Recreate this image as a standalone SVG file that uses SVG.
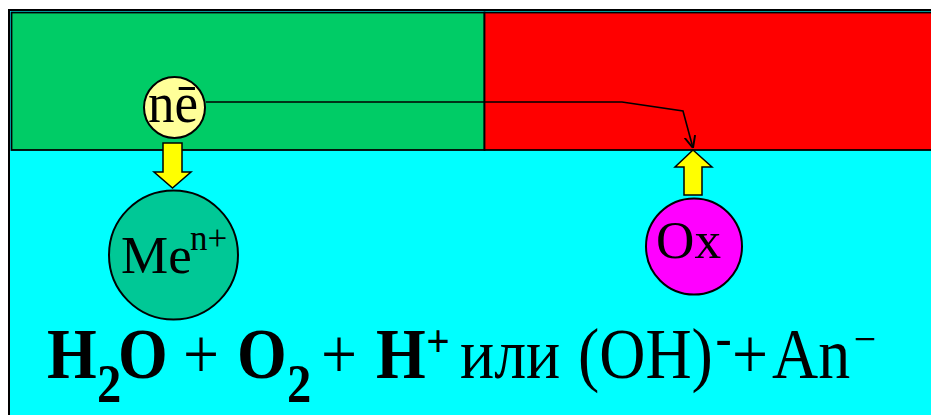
<svg xmlns="http://www.w3.org/2000/svg" width="931" height="415" viewBox="0 0 931 415">
<defs>
<style>
.t{font-family:"Liberation Serif","Times New Roman",serif;fill:#000}
.b{font-weight:bold}
.ar{fill:#FFFF00;stroke:#000;stroke-width:1.5;stroke-linejoin:miter}
.c{stroke:#000;stroke-width:2}
</style>
<marker id="ah" markerWidth="12" markerHeight="12" refX="10" refY="5" orient="auto" markerUnits="userSpaceOnUse" viewBox="0 0 10 10">
<path d="M0,0.5 L10,5 L0,9.5" fill="none" stroke="#000" stroke-width="1.6"/>
</marker>
</defs>
<rect width="931" height="415" fill="#fff"/>
<g id="frame">
<rect x="9" y="10" width="930" height="415" fill="#00FFFF" stroke="#000" stroke-width="2"/>
<rect x="11.5" y="12.5" width="473" height="137.5" fill="#00CC66" stroke="#000" stroke-width="1.8"/>
<rect x="484.5" y="12.5" width="450" height="137.5" fill="#FF0000" stroke="#000" stroke-width="1.8"/>
</g>
<g id="connectors">
<polyline points="206,102 622,102 683,111 693,148" fill="none" stroke="#000" stroke-width="1.6" marker-end="url(#ah)"/>
<polygon class="ar" points="163,143 182,143 182,172 191,172 172.5,188 154,172 163,172"/>
<polygon class="ar" points="693,150 712,167 702,167 702,195 684,195 684,167 675,167"/>
</g>
<g id="electron">
<circle class="c" cx="174.5" cy="107.5" r="30.5" fill="#FFFF99"/>
<text class="t" x="148" y="122" font-size="56" textLength="50" lengthAdjust="spacingAndGlyphs">nē</text>
</g>
<g id="metal">
<circle class="c" cx="173.5" cy="255" r="64.5" fill="#00C896"/>
<text class="t" font-size="53"><tspan x="121" y="273">Me</tspan><tspan x="190" y="250" font-size="35">n+</tspan></text>
</g>
<g id="oxidant">
<circle class="c" cx="694" cy="246.5" r="48" fill="#FF00FF"/>
<text class="t" x="656" y="258" font-size="53" textLength="65" lengthAdjust="spacingAndGlyphs">Ox</text>
</g>
<g id="formula">
<text class="t" font-size="71" transform="scale(0.9,1)"><tspan class="b" x="52.2" y="378">H</tspan><tspan class="b" x="107.8" y="402" font-size="54">2</tspan><tspan class="b" x="131.1" y="378">O</tspan><tspan x="203.3" y="378">+</tspan><tspan class="b" x="263.3" y="378">O</tspan><tspan class="b" x="318.9" y="402" font-size="54">2</tspan><tspan x="356.7" y="378">+</tspan><tspan class="b" x="417.8" y="378">H</tspan><tspan class="b" x="473.5" y="357" font-size="46">+</tspan><tspan x="511.1" y="378">или</tspan><tspan x="642.2" y="378">(OH)</tspan><tspan x="795" y="356" font-size="54">-</tspan><tspan x="813.3" y="378">+</tspan><tspan x="857.8" y="378">An</tspan><tspan x="949" y="354" font-size="44">−</tspan></text>
</g>
</svg>
